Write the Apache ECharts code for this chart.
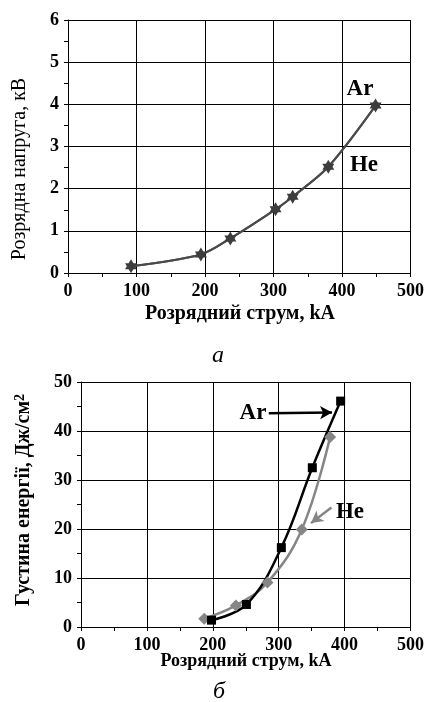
<!DOCTYPE html>
<html><head><meta charset="utf-8">
<script src="https://cdn.jsdelivr.net/npm/echarts@6/dist/echarts.min.js"></script>
<style>html,body{margin:0;padding:0;background:#fff}#c{width:427px;height:702px}</style>
</head><body><div id="c"></div>
<script>
// ---- data ----
const topCurrent = [92, 194, 237, 303, 328, 380, 449];
const topVoltageAr = [0.16, 0.44, 0.82, 1.51, 1.81, 2.52, 3.97];
const topVoltageHe = [0.16, 0.44, 0.82, 1.51, 1.81, 2.52, 3.97];
const botArCurrent = [198, 251, 304, 351, 394];
const botArEnergy = [1.4, 4.6, 16.2, 32.5, 46.1];
const botHeCurrent = [187, 235, 283, 335, 378];
const botHeEnergy = [1.7, 4.4, 9.1, 19.9, 38.8];
const xTicks = [0, 100, 200, 300, 400, 500];
const topYTicks = [0, 1, 2, 3, 4, 5, 6];
const botYTicks = [0, 10, 20, 30, 40, 50];

const SERIF = '"Liberation Serif", "Times New Roman", serif';
const pair = (xs, ys) => xs.map((x, i) => [x, ys[i]]);

function valAxis(gridIndex, ticks) {
  return {
    type: 'value', gridIndex,
    min: ticks[0], max: ticks[ticks.length - 1],
    interval: ticks[1] - ticks[0],
    axisLine: { show: true, onZero: false, lineStyle: { color: '#000', width: 1 } },
    axisTick: { show: true, inside: false, length: 4, lineStyle: { color: '#000', width: 1 } },
    minorTick: { show: true, splitNumber: 2, length: 4, lineStyle: { color: '#000', width: 1 } },
    splitLine: { show: true, lineStyle: { color: '#000', width: 1 } },
    minorSplitLine: { show: false },
    axisLabel: { color: '#000', fontFamily: SERIF, fontWeight: 'bold', fontSize: 18, margin: 9 }
  };
}

const chart = echarts.init(document.getElementById('c'), null, { renderer: 'canvas' });
chart.setOption({
  backgroundColor: '#fff',
  animation: false,
  grid: [
    { left: 68, top: 20, width: 344, height: 253, containLabel: false },
    { left: 81, top: 382, width: 331, height: 245, containLabel: false }
  ],
  xAxis: [valAxis(0, xTicks), valAxis(1, xTicks)],
  yAxis: [valAxis(0, topYTicks), valAxis(1, botYTicks)],
  series: [
    { type: 'line', xAxisIndex: 0, yAxisIndex: 0, data: pair(topCurrent, topVoltageHe), smooth: 0.3,
      symbol: 'triangle', symbolRotate: 180, symbolSize: [12, 10], symbolOffset: [0, 2],
      itemStyle: { color: '#3d3d3d' }, lineStyle: { color: '#4a4a4a', width: 2 } },
    { type: 'line', xAxisIndex: 0, yAxisIndex: 0, data: pair(topCurrent, topVoltageAr), smooth: 0.3,
      symbol: 'triangle', symbolSize: [12, 10], symbolOffset: [0, -2],
      itemStyle: { color: '#3d3d3d' }, lineStyle: { color: '#4a4a4a', width: 2 } },
    { type: 'line', xAxisIndex: 1, yAxisIndex: 1, data: pair(botHeCurrent, botHeEnergy), smooth: 0.4,
      symbol: 'diamond', symbolSize: 12,
      itemStyle: { color: '#858585' }, lineStyle: { color: '#858585', width: 2.5 },
      markLine: { silent: true, symbol: ['none', 'arrow'], symbolSize: [10, 12], label: { show: false },
        lineStyle: { color: '#858585', width: 2.5, type: 'solid' },
        data: [[{ coord: [380, 24.4] }, { coord: [349, 21.2] }]] } },
    { type: 'line', xAxisIndex: 1, yAxisIndex: 1, data: pair(botArCurrent, botArEnergy), smooth: 0.4,
      symbol: 'rect', symbolSize: 9,
      itemStyle: { color: '#000' }, lineStyle: { color: '#000', width: 2.5 },
      markLine: { silent: true, symbol: ['none', 'arrow'], symbolSize: [10, 12], label: { show: false },
        lineStyle: { color: '#000', width: 2.5, type: 'solid' },
        data: [[{ coord: [285, 43.6] }, { coord: [381, 43.8] }]] } }
  ],
  graphic: [
    { type: 'text', x: 20, y: 169, rotation: Math.PI / 2,
      style: { text: 'Розрядна напруга, кВ', fill: '#000', font: '20px ' + SERIF, textAlign: 'center', textVerticalAlign: 'middle' } },
    { type: 'text', x: 240, y: 314,
      style: { text: 'Розрядний струм, kA', fill: '#000', font: 'bold 20px ' + SERIF, textAlign: 'center', textVerticalAlign: 'middle' } },
    { type: 'text', x: 218, y: 356,
      style: { text: 'а', fill: '#000', font: 'italic 24px ' + SERIF, textAlign: 'center', textVerticalAlign: 'middle' } },
    { type: 'text', x: 360, y: 89,
      style: { text: 'Ar', fill: '#000', font: 'bold 23px ' + SERIF, textAlign: 'center', textVerticalAlign: 'middle' } },
    { type: 'text', x: 364, y: 165,
      style: { text: 'He', fill: '#000', font: 'bold 23px ' + SERIF, textAlign: 'center', textVerticalAlign: 'middle' } },
    { type: 'text', x: 24, y: 500, rotation: Math.PI / 2,
      style: { text: '{a|Густина енергії, Дж/см}{s|2}', fill: '#000', textAlign: 'center', textVerticalAlign: 'middle',
        rich: { a: { font: 'bold 20px ' + SERIF, fill: '#000' },
                s: { font: 'bold 14px ' + SERIF, fill: '#000', verticalAlign: 'top', padding: [0, 0, 8, 0] } } } },
    { type: 'text', x: 246, y: 661,
      style: { text: 'Розрядний струм, kA', fill: '#000', font: 'bold 18px ' + SERIF, textAlign: 'center', textVerticalAlign: 'middle' } },
    { type: 'text', x: 219, y: 692,
      style: { text: 'б', fill: '#000', font: 'italic 24px ' + SERIF, textAlign: 'center', textVerticalAlign: 'middle' } },
    { type: 'text', x: 253, y: 413,
      style: { text: 'Ar', fill: '#000', font: 'bold 23px ' + SERIF, textAlign: 'center', textVerticalAlign: 'middle' } },
    { type: 'text', x: 350, y: 512,
      style: { text: 'He', fill: '#000', font: 'bold 23px ' + SERIF, textAlign: 'center', textVerticalAlign: 'middle' } }
  ]
});
</script>
</body></html>
